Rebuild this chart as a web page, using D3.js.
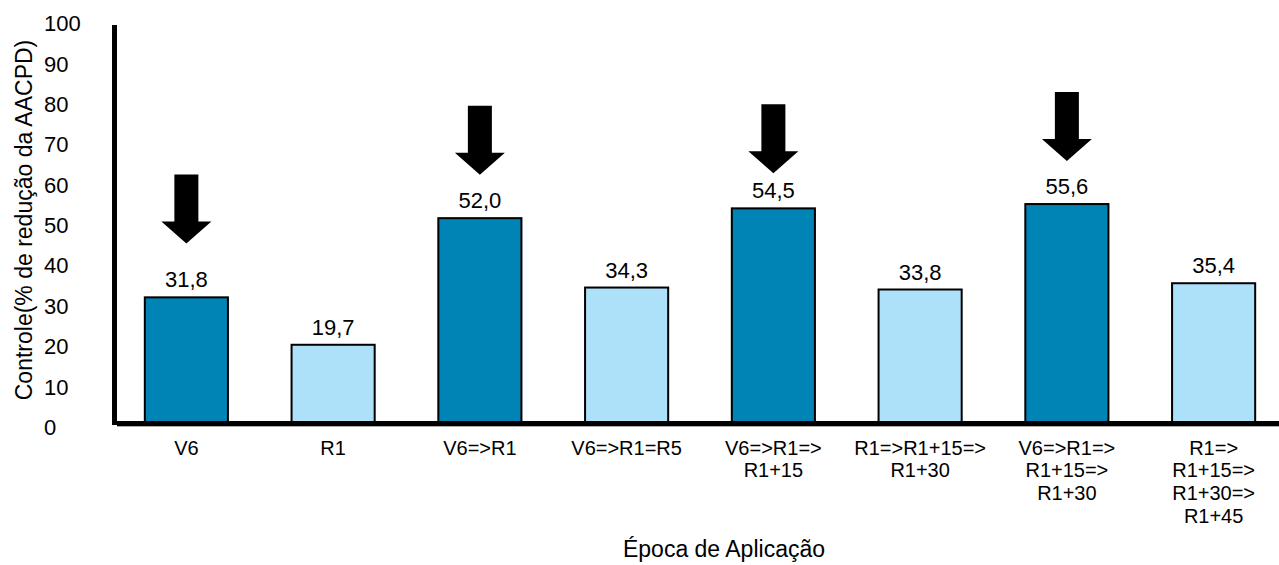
<!DOCTYPE html>
<html>
<head>
<meta charset="utf-8">
<script src="https://cdn.jsdelivr.net/npm/d3@7"></script>
<style>
  html, body { margin: 0; padding: 0; background: #fff; }
  svg { display: block; font-family: Arial, "Liberation Sans", sans-serif; }
</style>
</head>
<body>
<svg id="chart" width="1279" height="565"></svg>
<script>
// Application timing (each entry is a list of label lines)
const categories = [
  ["V6"],
  ["R1"],
  ["V6=>R1"],
  ["V6=>R1=R5"],
  ["V6=>R1=>", "R1+15"],
  ["R1=>R1+15=>", "R1+30"],
  ["V6=>R1=>", "R1+15=>", "R1+30"],
  ["R1=>", "R1+15=>", "R1+30=>", "R1+45"]
];
// Disease control (% reduction of AACPD)
const values = [31.8, 19.7, 52.0, 34.3, 54.5, 33.8, 55.6, 35.4];
// Programs starting at V6 are highlighted
const highlighted = [true, false, true, false, true, false, true, false];
// Arrow tip heights (in % units) above the highlighted bars
const arrowTips = [45.3, null, 62.8, null, 63.2, null, 66.3, null];
const yTicks = [0, 10, 20, 30, 40, 50, 60, 70, 80, 90, 100];

const svg = d3.select("#chart");
const dark = "#0083b5", light = "#ade0f9";

const keys = categories.map((c, i) => i);
const x = d3.scaleBand().domain(keys).range([113, 1287]).paddingInner(0.42).paddingOuter(0.21);
const y = d3.scaleLinear().domain([0, 100]).range([421, 29]);
// tick labels sit on their own slightly wider grid
const yLab = d3.scaleLinear().domain([0, 100]).range([427, 23.3]);

// y tick labels (left aligned)
svg.append("g").selectAll("text").data(yTicks).join("text")
  .attr("x", 44).attr("y", d => yLab(d))
  .attr("dy", "0.36em")
  .attr("font-size", 22).attr("fill", "#000")
  .text(d => d);

// bars
svg.append("g").selectAll("rect").data(values).join("rect")
  .attr("x", (d, i) => x(i) + 1)
  .attr("y", d => y(d) + 1)
  .attr("width", x.bandwidth() - 2)
  .attr("height", d => y(0) - y(d))
  .attr("fill", (d, i) => highlighted[i] ? dark : light)
  .attr("stroke", "#000").attr("stroke-width", 2);

// value labels
svg.append("g").selectAll("text").data(values).join("text")
  .attr("x", (d, i) => x(i) + x.bandwidth() / 2)
  .attr("y", d => y(d) - 9)
  .attr("text-anchor", "middle")
  .attr("font-size", 22).attr("fill", "#000")
  .text(d => d3.format(".1f")(d).replace(".", ","));

// arrows pointing at highlighted bars
const shaftW = 24, headW = 50, headL = 22, totalL = 69;
svg.append("g").selectAll("path").data(arrowTips.map((t, i) => ({t, i})).filter(d => d.t !== null)).join("path")
  .attr("d", d => {
    const cx = x(d.i) + x.bandwidth() / 2, tip = y(d.t), top = tip - totalL, hs = tip - headL;
    return `M${cx - shaftW / 2},${top} L${cx + shaftW / 2},${top} L${cx + shaftW / 2},${hs} L${cx + headW / 2},${hs} L${cx},${tip} L${cx - headW / 2},${hs} L${cx - shaftW / 2},${hs} Z`;
  })
  .attr("fill", "#000");

// axis lines
svg.append("line").attr("x1", 114.5).attr("x2", 114.5).attr("y1", 25).attr("y2", 425)
  .attr("stroke", "#000").attr("stroke-width", 5);
svg.append("line").attr("x1", 117).attr("x2", 1279).attr("y1", 423.5).attr("y2", 423.5)
  .attr("stroke", "#000").attr("stroke-width", 5);
svg.append("line").attr("x1", 117).attr("x2", 1279).attr("y1", 426.5).attr("y2", 426.5)
  .attr("stroke", "#aaa").attr("stroke-width", 1);

// category labels
const catG = svg.append("g").selectAll("text").data(categories).join("text")
  .attr("text-anchor", "middle")
  .attr("font-size", 20).attr("fill", "#000");
catG.selectAll("tspan").data((d, i) => d.map(line => ({line, i}))).join("tspan")
  .attr("x", d => x(d.i) + x.bandwidth() / 2)
  .attr("y", (d, j) => 454.5 + j * 22.7)
  .text(d => d.line);

// axis titles
svg.append("text")
  .attr("x", 724).attr("y", 557)
  .attr("text-anchor", "middle").attr("font-size", 23).attr("fill", "#000")
  .text("Época de Aplicação");
svg.append("text")
  .attr("transform", "translate(32,220) rotate(-90)")
  .attr("text-anchor", "middle").attr("font-size", 23).attr("fill", "#000")
  .text("Controle(% de redução da AACPD)");
</script>
</body>
</html>
